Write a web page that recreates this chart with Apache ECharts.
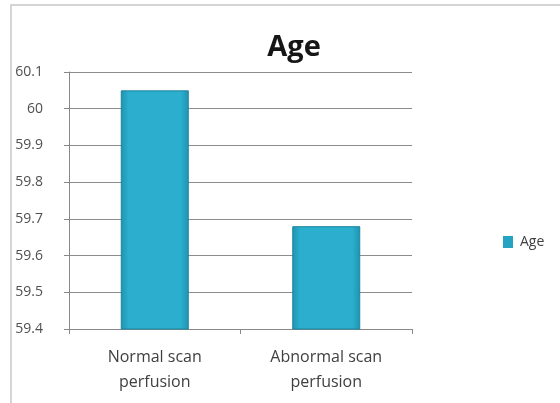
<!DOCTYPE html>
<html>
<head>
<meta charset="utf-8">
<style>
  html, body { margin: 0; padding: 0; background: #ffffff; }
  #chart { width: 560px; height: 403px; }
</style>
<script src="https://cdn.jsdelivr.net/npm/echarts@6/dist/echarts.min.js"></script>
</head>
<body>
<div id="chart"></div>
<script>
// Mean age by scan perfusion result
const categories = ['Normal scan\nperfusion', 'Abnormal scan\nperfusion'];
const ageValues = [60.05, 59.68];
const seriesName = 'Age';
const yMin = 59.4;
const yMax = 60.1;
const yStep = 0.1;

const chart = echarts.init(document.getElementById('chart'));

// Bevelled teal bar: darker side edges, slightly darker foot
const barFill = {
  type: 'linear', x: 0, y: 0, x2: 1, y2: 0,
  colorStops: [
    { offset: 0, color: '#1f93b0' },
    { offset: 0.12, color: '#2cafcf' },
    { offset: 0.88, color: '#2cafcf' },
    { offset: 1, color: '#1f93b0' }
  ]
};

const font = 'Open Sans, Lato, sans-serif';

chart.setOption({
  animation: false,
  backgroundColor: '#ffffff',
  textStyle: { fontFamily: font },
  title: {
    text: 'Age',
    left: 289,
    top: 28,
    textAlign: 'center',
    textStyle: { fontSize: 29, fontWeight: 'bold', color: '#161616', fontFamily: font }
  },
  graphic: [
    {
      type: 'rect',
      shape: { x: 11, y: 5, width: 560, height: 420 },
      style: { fill: 'none', stroke: '#c8c8c8', lineWidth: 1.5 },
      silent: true
    }
  ],
  legend: {
    data: [seriesName],
    left: 498,
    top: 230,
    itemWidth: 10,
    itemHeight: 12,
    itemGap: 4,
    textStyle: { fontSize: 14, color: '#404040', padding: [0, 0, 0, 2] },
    itemStyle: { borderWidth: 0, color: '#24a3c2' },
    icon: 'rect'
  },
  grid: { left: 69, right: 148, top: 72, bottom: 74 },
  xAxis: {
    type: 'category',
    data: categories,
    axisLine: { lineStyle: { color: '#888888' } },
    axisTick: { show: true, alignWithLabel: false, length: 5, lineStyle: { color: '#888888' } },
    axisLabel: { fontSize: 16, color: '#404040', lineHeight: 25, margin: 16 }
  },
  yAxis: {
    type: 'value',
    min: yMin,
    max: yMax,
    interval: yStep,
    axisLine: { show: true, lineStyle: { color: '#888888' } },
    axisTick: { show: true, length: 5, lineStyle: { color: '#888888' } },
    axisLabel: {
      fontSize: 14, color: '#505050', margin: 26,
      formatter: v => String(Math.round(v * 10) / 10)
    },
    splitLine: { lineStyle: { color: '#8c8c8c' } }
  },
  series: [{
    name: seriesName,
    type: 'bar',
    data: ageValues,
    barWidth: 68,
    itemStyle: { color: barFill, borderColor: '#1a849d', borderWidth: 1 }
  }]
});
</script>
</body>
</html>
